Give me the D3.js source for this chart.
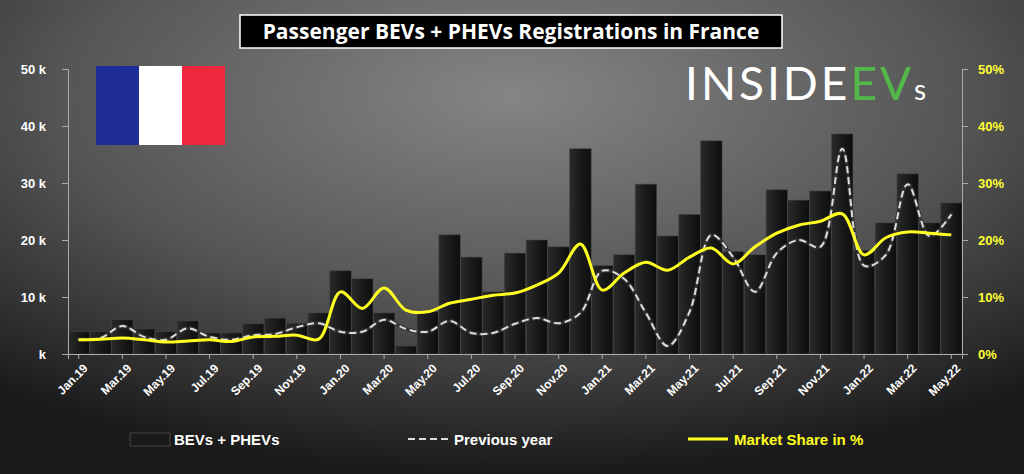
<!DOCTYPE html>
<html><head><meta charset="utf-8">
<script src="https://cdn.jsdelivr.net/npm/d3@7"></script>
<style>body{margin:0;background:#000}svg{display:block}</style></head>
<body><svg id="c" width="1024" height="474"></svg>
<script>
const months=["Jan.19","Feb.19","Mar.19","Apr.19","May.19","Jun.19","Jul.19","Aug.19","Sep.19","Oct.19","Nov.19","Dec.19",
"Jan.20","Feb.20","Mar.20","Apr.20","May.20","Jun.20","Jul.20","Aug.20","Sep.20","Oct.20","Nov.20","Dec.20",
"Jan.21","Feb.21","Mar.21","Apr.21","May.21","Jun.21","Jul.21","Aug.21","Sep.21","Oct.21","Nov.21","Dec.21",
"Jan.22","Feb.22","Mar.22","Apr.22","May.22"];
const registrations=[3.9,3.9,6.0,4.4,3.9,5.8,3.7,3.7,5.3,6.3,5.4,7.2,
14.6,13.2,7.2,1.4,7.4,20.9,17.0,10.9,17.7,20.0,18.8,36.0,
15.5,17.4,29.8,20.7,24.5,37.4,18.0,17.4,28.8,27.0,28.6,38.6,
18.2,23.0,31.6,23.0,26.5];
const previous2018=[2.5,2.8,4.9,3.0,2.5,4.5,3.0,2.5,3.3,3.5,4.7,5.4];
const previousYear=months.map((m,i)=>i<12?previous2018[i]:registrations[i-12]);
const marketShare=[2.5,2.6,2.8,2.5,2.1,2.3,2.5,2.2,3.0,3.1,3.3,2.6,
10.9,8.0,11.6,7.7,7.4,8.9,9.6,10.3,10.7,12.1,14.2,19.3,
11.2,14.2,16.1,14.7,17.0,18.6,15.8,18.8,21.2,22.6,23.3,24.6,
17.4,20.4,21.4,21.2,20.9];
const leftTicks=[0,10,20,30,40,50];
const rightTicks=[0,10,20,30,40,50];

const svg=d3.select("#c");
const defs=svg.append("defs");
const rg=defs.append("radialGradient").attr("id","bg").attr("cx","50%").attr("cy","20%").attr("r","80%");
rg.append("stop").attr("offset","0%").attr("stop-color","#858585");
rg.append("stop").attr("offset","55%").attr("stop-color","#555");
rg.append("stop").attr("offset","100%").attr("stop-color","#1a1a1a");
const bgr=defs.append("linearGradient").attr("id","bar").attr("x1",0).attr("x2",1);
bgr.append("stop").attr("offset","0%").attr("stop-color","#2a2a2a");
bgr.append("stop").attr("offset","50%").attr("stop-color","#1a1a1a");
bgr.append("stop").attr("offset","100%").attr("stop-color","#0e0e0e");
svg.append("rect").attr("width",1024).attr("height",474).attr("fill","url(#bg)");

const L=68,R=962,T=69,B=354;
const x=d3.scaleBand().domain(months).range([L,R]).paddingInner(0.02);
const y=d3.scaleLinear().domain([0,50]).range([B,T]);
const y2=d3.scaleLinear().domain([0,50]).range([B,T]);

svg.append("g").selectAll("rect").data(registrations).join("rect")
 .attr("x",(d,i)=>x(months[i])).attr("width",x.bandwidth())
 .attr("y",d=>y(d)).attr("height",d=>B-y(d))
 .attr("fill","url(#bar)").attr("stroke","#444").attr("stroke-width",0.6);

const ga=svg.append("g").attr("transform",`translate(${L},0)`).call(d3.axisLeft(y).tickValues(leftTicks).tickSize(6).tickFormat(d=>d===0?" k":d+" k"));
ga.selectAll("text").attr("fill","#fff").style("font","bold 13px 'Liberation Sans',Arial").attr("x",-22);
const gb=svg.append("g").attr("transform",`translate(${R},0)`).call(d3.axisRight(y2).tickValues(rightTicks).tickSize(6).tickFormat(d=>d+"%"));
gb.selectAll("text").attr("fill","#ffff33").style("font","bold 13px 'Liberation Sans',Arial").attr("x",16);
[ga,gb].forEach(g=>{g.selectAll("line,path").attr("stroke","#aaa");});
const gx=svg.append("g").attr("transform",`translate(0,${B})`).call(d3.axisBottom(x).tickValues(months.filter((m,i)=>i%2==0)).tickSize(5));
gx.selectAll("line,path").attr("stroke","#aaa");
gx.selectAll("text").attr("fill","#fff").style("font","bold 12px 'Liberation Sans',Arial")
 .attr("text-anchor","end").attr("transform","rotate(-45)").attr("dx","-0.3em").attr("dy","0.8em");

const cx=(i)=>x(months[i])+x.bandwidth()/2;
const line=d3.line().x((d,i)=>cx(i)).curve(d3.curveCatmullRom.alpha(0.5));
svg.append("path").datum(previousYear).attr("d",line.y(d=>y(d))).attr("fill","none")
 .attr("stroke","#333").attr("stroke-width",4).attr("stroke-dasharray","7,4").attr("stroke-linecap","round");
svg.append("path").datum(previousYear).attr("d",line.y(d=>y(d))).attr("fill","none")
 .attr("stroke","#ddd").attr("stroke-width",2).attr("stroke-dasharray","7,4");
svg.append("path").datum(marketShare).attr("d",line.y(d=>y2(d))).attr("fill","none")
 .attr("stroke","#ffff22").attr("stroke-width",3);

svg.append("rect").attr("x",240).attr("y",15).attr("width",542).attr("height",33).attr("fill","#000").attr("stroke","#fff").attr("stroke-width",1.5);
svg.append("text").attr("x",511).attr("y",39).attr("text-anchor","middle").attr("fill","#fff")
 .style("font","bold 21px 'Open Sans','Liberation Sans',Arial").text("Passenger BEVs + PHEVs Registrations in France");

const fl=svg.append("g");
fl.append("rect").attr("x",96).attr("y",66).attr("width",43).attr("height",79).attr("fill","#1f2e97");
fl.append("rect").attr("x",139).attr("y",66).attr("width",43).attr("height",79).attr("fill","#fff");
fl.append("rect").attr("x",182).attr("y",66).attr("width",43).attr("height",79).attr("fill","#ee283c");
const lg=svg.append("text").attr("x",685).attr("y",100).style("font","46px 'Lato','Open Sans',Arial").attr("letter-spacing","3");
lg.append("tspan").attr("fill","#fff").text("INSIDE");
lg.append("tspan").attr("fill","#52b848").text("EV");
lg.append("tspan").attr("fill","#fff").style("font-size","28px").text("s");

const ly=439;
svg.append("rect").attr("x",130).attr("y",433).attr("width",40).attr("height",13).attr("fill","#1a1a1a").attr("stroke","#444");
svg.append("text").attr("x",174).attr("y",445).attr("fill","#fff").style("font","bold 15px 'Liberation Sans',Arial").text("BEVs + PHEVs");
svg.append("line").attr("x1",408).attr("x2",448).attr("y1",ly).attr("y2",ly).attr("stroke","#ddd").attr("stroke-width",2).attr("stroke-dasharray","7,4");
svg.append("text").attr("x",454).attr("y",445).attr("fill","#fff").style("font","bold 15px 'Liberation Sans',Arial").text("Previous year");
svg.append("line").attr("x1",688).attr("x2",728).attr("y1",ly).attr("y2",ly).attr("stroke","#ffff22").attr("stroke-width",3);
svg.append("text").attr("x",734).attr("y",445).attr("fill","#ffff22").style("font","bold 15px 'Liberation Sans',Arial").text("Market Share in %");
</script></body></html>
